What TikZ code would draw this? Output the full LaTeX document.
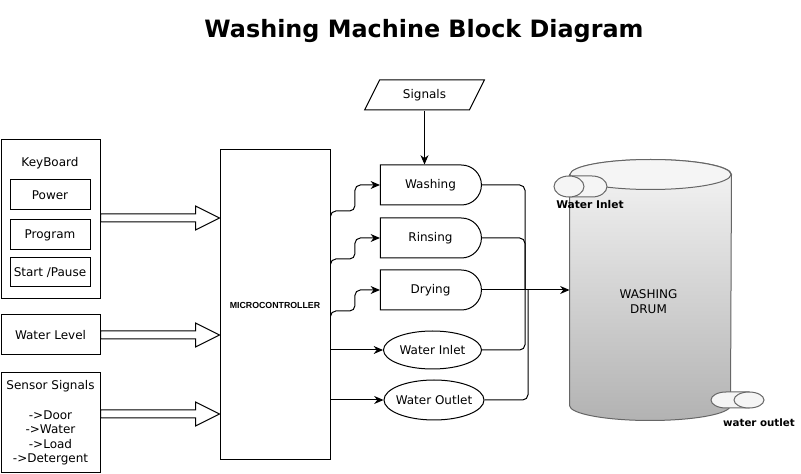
\documentclass[tikz,border=0pt]{standalone}
\usepackage{fontspec}
\setmainfont{DejaVu Sans}
\newfontfamily\arialfont{Liberation Sans}
\usetikzlibrary{arrows.meta,positioning,calc,shapes.geometric,shapes.misc}
\definecolor{drumtop}{gray}{0.96}
\definecolor{drumbot}{gray}{0.70}
\definecolor{drumedge}{gray}{0.40}
\definecolor{pipefill}{gray}{0.96}
\def\pxl{0.75pt}
\tikzset{
  box/.style={draw,rectangle,inner sep=0pt,align=center},
  keybox/.style={box,minimum width=80*\pxl,minimum height=30*\pxl},
  stage/.style={draw,rounded rectangle,rounded rectangle left arc=none,
    minimum width=101*\pxl,minimum height=40*\pxl,inner sep=0pt},
  valve/.style={draw,ellipse,minimum width=98*\pxl,minimum height=38*\pxl,inner sep=0pt,inner xsep=-4pt},
  sigbox/.style={draw,trapezium,trapezium left angle=58,trapezium right angle=122,trapezium stretches=true,
    minimum width=120*\pxl,minimum height=30*\pxl,inner sep=0pt},
  conn/.style={line width=0.75pt},
  tip/.style={-{Stealth[length=7pt,width=6pt]}},
  fatarr/.style={draw,fill=white,line width=0.75pt},
  pipe/.style={fill=pipefill,draw=drumedge,line width=0.75pt},
  pipelab/.style={font=\bfseries\fontsize{8}{10}\selectfont},
}

\begin{document}
\begin{tikzpicture}[x=0.75pt,y=-0.75pt,font=\fontsize{9}{11.25}\selectfont,line width=0.75pt]
  \useasboundingbox (0,0) rectangle (801,474);
  % titel
  \node[font=\bfseries\fontsize{17.9}{21}\selectfont] (title) at (424,31) {Washing Machine Block Diagram};

  % --- invoer links ---
  \node[box,minimum width=99*\pxl,minimum height=159*\pxl] (kb) at (50.5,219.5) {};
  \node (kblab) at (50,163) {KeyBoard};
  \node[keybox] (pwr) at (50,195) {Power};
  \node[keybox] (prg) at (50,235) {Program};
  \node[keybox,minimum height=29*\pxl] (sp) at (50,272.5) {Start /Pause};
  \node[box,minimum width=99*\pxl,minimum height=40*\pxl] (wl) at (50.5,335) {Water Level};
  \node[box,minimum width=99*\pxl,minimum height=100*\pxl,font=\fontsize{9}{10.9}\selectfont] (ss) at (50.5,423)
    {Sensor Signals\\[10.9pt]->Door\\->Water\\->Load\\->Detergent};

  % microcontroller
  \node[box,minimum width=110*\pxl,minimum height=310*\pxl,font=\arialfont\bfseries\fontsize{6.6}{8}\selectfont] (mc) at (275,305) {MICROCONTROLLER};

  % holle pijlen naar de controller
  \foreach \src/\yy in {kb/218, wl/335, ss/414}{
    \draw[fatarr] ($(\src.east |- 0,\yy)+(0,-4)$) -- ($(mc.west |- 0,\yy)+(-24,-4)$) -- ++(0,-8)
      -- (mc.west |- 0,\yy) -- ++(-24,12) -- ++(0,-8) -- ($(\src.east |- 0,\yy)+(0,4)$) -- cycle;
  }

  % --- programmafasen ---
  \node[sigbox] (sig) at (424.5,95) {Signals};
  \node[stage] (wash) at (430.5,185) {Washing};
  \node[stage] (rinse) at (430.5,238) {Rinsing};
  \node[stage] (dry) at (430.5,290) {Drying};
  \node[valve] (inlet) at (432.5,350) {Water Inlet};
  \node[valve,minimum width=100*\pxl,minimum height=40*\pxl] (outlet) at (434,400) {Water Outlet};

  \draw[conn,tip] (sig.south) -- (sig.south |- wash.north);
  \foreach \tgt/\dy/\dz in {wash/67/26, rinse/115/21, dry/167/21}{
    \draw[conn,tip,rounded corners=4pt] ($(mc.north east)+(0,\dy)$) |- ($(\tgt.west)+(-25,\dz)$) |- (\tgt.west);
  }
  \draw[conn,tip] (mc.east |- inlet) -- (inlet);
  \draw[conn,tip] (mc.east |- outlet) -- (outlet);

  % --- trommel ---
  \node[minimum width=161*\pxl,minimum height=230*\pxl,inner sep=0pt] (drum) at (650.5,290) {};
  \path[draw=drumedge,top color=drumtop,bottom color=drumbot] (drum.north west) -- (drum.south west)
    arc[start angle=180,end angle=360,x radius=60.375pt,y radius=11.25pt] -- (drum.north east)
    arc[start angle=0,end angle=180,x radius=60.375pt,y radius=11.25pt] -- cycle;
  \filldraw[fill=drumtop,draw=drumedge] (drum.north) ellipse[x radius=60.375pt,y radius=11.25pt];
  \node[align=center,font=\fontsize{9}{11.25}\selectfont] (drumlab) at ($(drum.center)+(-2,12)$) {WASHING\\DRUM};

  % leidingen
  \path[pipe] (569,176) -- (592,176) arc[start angle=90,end angle=-90,x radius=11.25pt,y radius=7.875pt] -- (569,197) -- cycle;
  \path[pipe] (569,186.5) ellipse[x radius=11.25pt,y radius=7.875pt];
  \node[pipelab] (inlab) at (590,205) {Water Inlet};
  \path[pipe] (749,392) -- (726,392) arc[start angle=90,end angle=270,x radius=11.25pt,y radius=6pt] -- (749,408) -- cycle;
  \path[pipe] (749,400) ellipse[x radius=11.25pt,y radius=6pt];
  \node[pipelab,font=\bfseries\fontsize{7.7}{10}\selectfont] (outlab) at (759,423) {water outlet};

  % naar de trommel
  \foreach \src/\xx in {wash/525, rinse/525, inlet/525, outlet/528}{
    \draw[conn,rounded corners=4pt] (\src.east) -| (\xx,290);
  }
  \draw[conn,tip] (dry.east) -- (drum.west);
\end{tikzpicture}
\end{document}
